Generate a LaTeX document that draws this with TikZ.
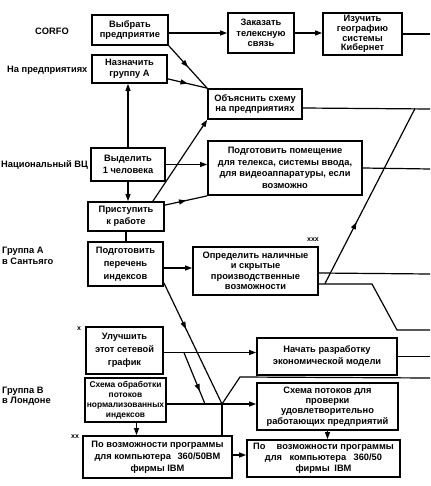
\documentclass[tikz,border=0pt]{standalone}
\usepackage{fontspec}
\setmainfont{Liberation Sans}
\usetikzlibrary{arrows.meta,calc,decorations.markings}
\begin{document}
\begin{tikzpicture}[x=1pt,y=-1pt,
  txt/.style={font=\bfseries\fontsize{9.3}{#1}\selectfont},
  txt/.default=10.5,
  box/.style={draw,line width=1.8pt,align=center,inner sep=0.5pt,txt},
  lab/.style={inner sep=0pt,txt},
  small/.style={inner sep=0pt,font=\bfseries\fontsize{7}{8}\selectfont},
  conn/.style={line width=1.2pt},
  arr/.style={conn,-{Triangle[length=7pt,width=5pt]}},
  midarr/.style={conn,postaction={decorate},decoration={markings,mark=at position #1 with {\arrow{Triangle[length=7pt,width=5pt]}}}},
  midarr/.default=0.5,
]
\useasboundingbox (0,0) rectangle (430,486);

% boxes
\node[box,minimum width=76,minimum height=30] (b1) at (130,30) {Выбрать\\предприятие};
\node[box,minimum width=66,minimum height=40] (b2) at (261,33) {Заказать\\телексную\\связь};
\node[box,minimum width=79,minimum height=42,txt=9.8] (b3) at (362.5,34) {Изучить\\географию\\системы\\Кибернет};
\node[box,minimum width=75,minimum height=28] (b4) at (129.5,69) {Назначить\\группу А};
\node[box,minimum width=94,minimum height=30] (b5) at (255,104) {Объяснить схему\\на предприятиях};
\node[box,minimum width=74,minimum height=33,txt=12] (b6) at (128,164.5) {Выделить\\1 человека};
\node[box,minimum width=154,minimum height=54,txt=11.5] (b7) at (285,168) {Подготовить помещение\\для телекса, системы ввода,\\для видеоаппаратуры, если\\возможно};
\node[box,minimum width=76,minimum height=29,txt=12] (b8) at (126,216.5) {Приступить\\к работе};
\node[box,minimum width=75,minimum height=44,txt=13] (b9) at (125.5,264) {Подготовить\\перечень\\индексов};
\node[box,minimum width=125,minimum height=48,txt=10.5] (b10) at (255.5,271) {Определить наличные\\и скрытые\hspace{2.5em}\\производственные\\возможности};
\node[box,minimum width=77,minimum height=47,txt=13] (b11) at (124.5,350.5) {Улучшить\\этот сетевой\\график};
\node[box,minimum width=140,minimum height=37,txt=12] (b12) at (327,356.5) {Начать разработку\\экономической модели};
\node[box,minimum width=81,minimum height=44,font=\bfseries\fontsize{8.4}{10}\selectfont] (b13) at (125.5,400) {Схема обработки\\потоков\\нормализованных\\индексов};
\node[box,minimum width=141,minimum height=47,txt=10.3] (b14) at (327.5,406.5) {Схема потоков для\\проверки\\удовлетворительно\\работающих предприятий};
\node[box,minimum width=149,minimum height=42,txt=12] (b15) at (157.5,457) {По возможности программы\\для компьютера\hspace{0.7em}360/50BM\\фирмы IBM};
\node[box,minimum width=153,minimum height=37,txt=11] (b16) at (323.5,458.5) {По\hspace{1.2em}возможности программы\\для\hspace{0.8em}компьютера\hspace{0.8em}360/50\\фирмы\hspace{0.5em}IBM};

% side labels
\node[lab] (lcorfo) at (52,31) {CORFO};
\node[lab,anchor=west] (lpred) at (7,70) {На предприятиях};
\node[lab,anchor=west] (lvc) at (1,165) {Национальный ВЦ};
\node[lab,anchor=west,align=left] (lga) at (2,256) {Группа А\\в Сантьяго};
\node[lab,anchor=west,align=left] (lgb) at (2,396) {Группа В\\в Лондоне};
\node[small] (x1) at (79,329) {x};
\node[small] (x2) at (75,437) {xx};
\node[small] (x3) at (313,240) {xxx};

% helper coordinates
\coordinate (e3) at (430,34);
\coordinate (e5) at (430,109);
\coordinate (e7) at (430,169);
\coordinate (e10a) at (430,274);
\coordinate (k1) at (372,284);
\coordinate (k2) at (397,330);
\coordinate (e10b) at (430,330);
\coordinate (e12) at (430,358);
\coordinate (J1) at (222,404);
\coordinate (J3) at (205,404);
\coordinate (J4) at (325,283.5);
\coordinate (J5) at (415,108.5);
\coordinate (k3) at (240,377);
\coordinate (e14) at (430,378);
\coordinate (t4) at ($(b4.south east)+(0,-5)$);
\coordinate (t8a) at ($(b8.north east)+(-12,0)$);
\coordinate (t8b) at ($(b8.north east)+(0,4)$);
\coordinate (t9) at ($(b9.east)+(0,4)$);
\coordinate (t9b) at ($(b9.south east)+(0,-4)$);
\coordinate (t11) at ($(b11.east)+(0,2)$);
\coordinate (J2) at ($(t11)+(20,0)$);
\coordinate (t13) at ($(b13.east)+(0,4)$);
\coordinate (t13s) at ($(b13.south)+(11,0)$);
\coordinate (t15) at ($(b15.east)+(0,-2)$);
\coordinate (t5) at ($(b5.east)+(0,4)$);
\coordinate (t10a) at ($(b10.east)+(0,2)$);
\coordinate (t10b) at ($(b10.south east)+(0,-12)$);

% connectors
\draw[arr] (b1.east |- b2.west) -- (b2.west);
\draw[arr] (b2.east) -- (b3.west |- b2.east);
\draw[conn] (b3.east) -- (e3);
\draw[midarr] (b1.south east) -- (b5.north west);
\draw[midarr] (t4) -- (b5.north west);
\draw[arr] (b6.north) -- (b6.north |- b4.south);
\draw[arr] (b6.south) -- (b6.south |- b8.north);
\draw[arr] (b6.east) -- (b7.west |- b6.east);
\draw[arr] (t8a) -- (b5.south west);
\draw[midarr] (t8b) -- (b7.south west);
\draw[conn] (b8.south) -- (b8.south |- b9.north);
\draw[arr] (t9) -- (b10.west |- t9);
\draw[midarr=0.38] (t9b) -- (J1);
\draw[arr] (t11) -- (b12.west |- t11);
\draw[midarr=0.75] (J2) -- (J3);
\draw[arr] (t13) -- (b14.west |- t13);
\draw[conn] (J1) -- (J1 |- b15.north);
\draw[conn] (J1) -- (k3) -- (e14);
\draw[arr] (t13s) -- (t13s |- b15.north);
\draw[arr] (b14.south) -- (b14.south |- b16.north);
\draw[arr] (t15) -- (b16.west |- t15);
\draw[conn] (b12.east) -- (b12.east -| e12);
\draw[conn] (t10a) -- (e10a);
\draw[conn] (t10b) -- (k1) -- (k2) -- (e10b);
\draw[midarr=0.35] (J4) -- (J5);
\draw[conn] (t5) -- (e5);
\draw[conn] (b7.east) -- (e7);
\end{tikzpicture}
\end{document}
